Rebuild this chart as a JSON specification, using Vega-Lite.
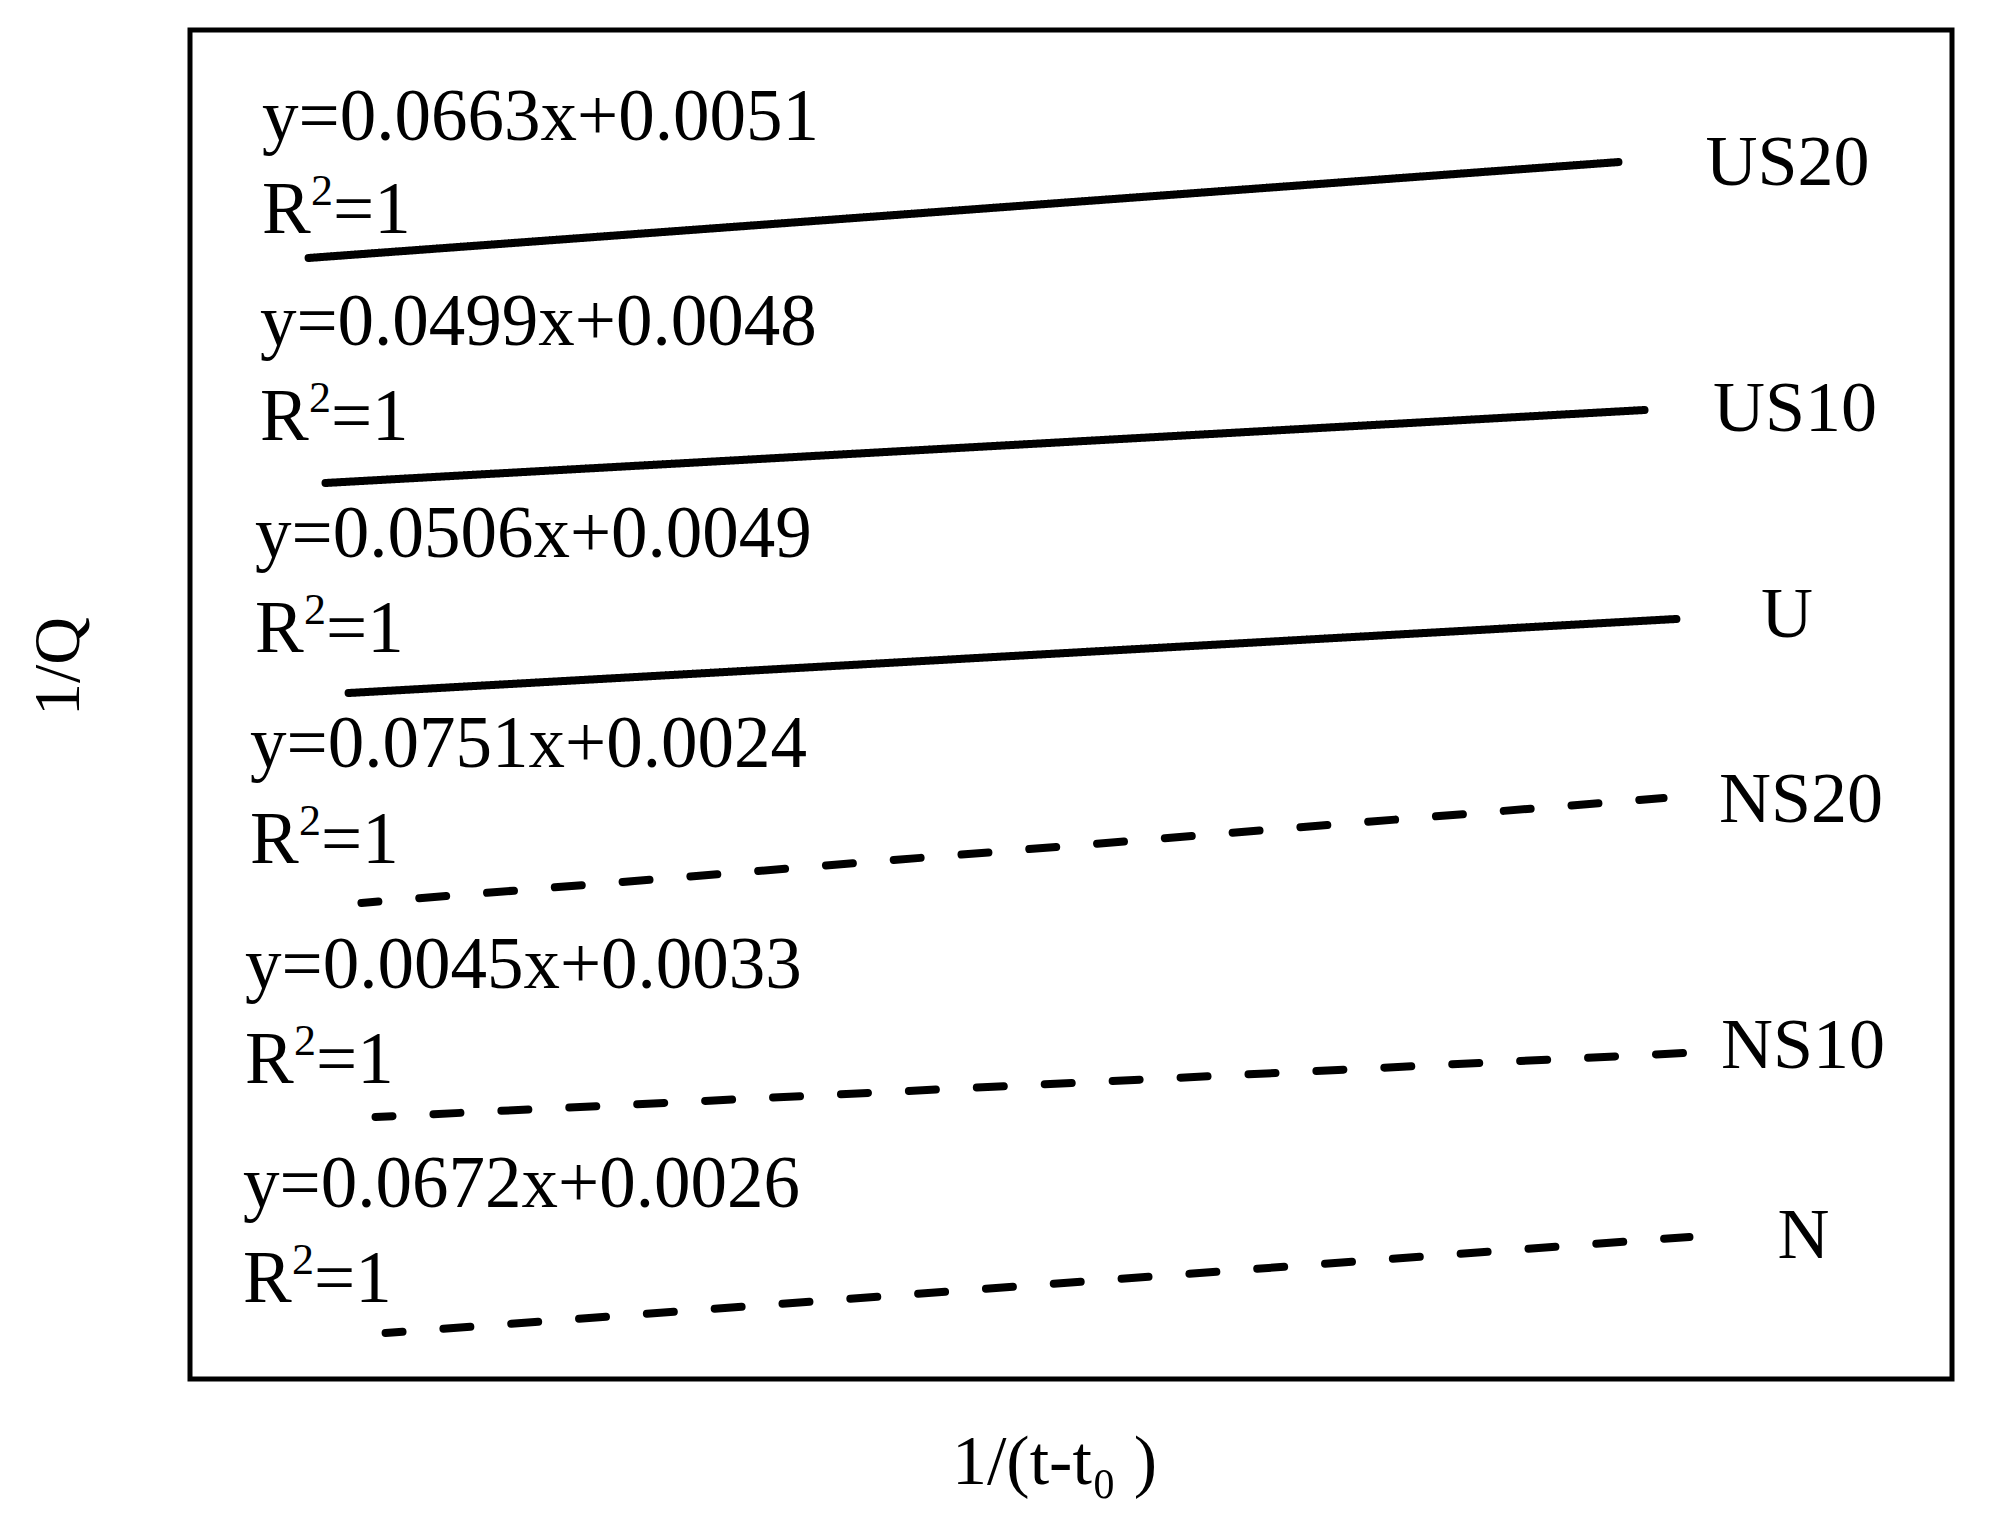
{
  "$schema": "https://vega.github.io/schema/vega-lite/v6.json",
  "width": 1762,
  "height": 1349,
  "autosize": "none",
  "padding": {"left": 190, "top": 30, "right": 39, "bottom": 147},
  "background": "white",
  "config": {
    "view": {"stroke": "black", "strokeWidth": 5},
    "font": "Liberation Serif"
  },
  "datasets": {
    "lines": [
      {"series": "US20", "style": "solid", "x": 6.73, "y": 83.10},
      {"series": "US20", "style": "solid", "x": 81.07, "y": 90.21},
      {"series": "US10", "style": "solid", "x": 7.69, "y": 66.42},
      {"series": "US10", "style": "solid", "x": 82.55, "y": 71.83},
      {"series": "U", "style": "solid", "x": 9.00, "y": 50.85},
      {"series": "U", "style": "solid", "x": 84.36, "y": 56.34},
      {"series": "NS20", "style": "dashed", "x": 9.73, "y": 35.29},
      {"series": "NS20", "style": "dashed", "x": 83.63, "y": 43.07},
      {"series": "NS10", "style": "dashed", "x": 10.53, "y": 19.42},
      {"series": "NS10", "style": "dashed", "x": 84.87, "y": 24.17},
      {"series": "N", "style": "dashed", "x": 11.10, "y": 3.41},
      {"series": "N", "style": "dashed", "x": 85.10, "y": 10.53}
    ],
    "equations": [
      {"text": "y=0.0663x+0.0051", "x": 4.09, "y": 91.85},
      {"text": "y=0.0499x+0.0048", "x": 3.97, "y": 76.65},
      {"text": "y=0.0506x+0.0049", "x": 3.69, "y": 60.93},
      {"text": "y=0.0751x+0.0024", "x": 3.41, "y": 45.37},
      {"text": "y=0.0045x+0.0033", "x": 3.12, "y": 28.98},
      {"text": "y=0.0672x+0.0026", "x": 3.01, "y": 12.75}
    ],
    "r2": [
      {"series": "US20", "x": 4.09, "y": 84.95},
      {"series": "US10", "x": 3.97, "y": 69.61},
      {"series": "U", "x": 3.69, "y": 53.89},
      {"series": "NS20", "x": 3.41, "y": 38.25},
      {"series": "NS10", "x": 3.12, "y": 21.94},
      {"series": "N", "x": 3.01, "y": 5.71}
    ],
    "labels": [
      {"text": "US20", "x": 90.66, "y": 88.51},
      {"text": "US10", "x": 91.09, "y": 70.27},
      {"text": "U", "x": 90.64, "y": 55.00},
      {"text": "NS20", "x": 91.43, "y": 41.29},
      {"text": "NS10", "x": 91.54, "y": 23.05},
      {"text": "N", "x": 91.57, "y": 8.97}
    ]
  },
  "encoding": {
    "x": {
      "field": "x",
      "type": "quantitative",
      "scale": {"domain": [0, 100], "nice": false, "zero": false},
      "axis": {
        "title": "1/(t-t₀ )",
        "labels": false,
        "ticks": false,
        "domain": false,
        "grid": false,
        "titleFont": "Liberation Serif",
        "titleFontSize": 70,
        "titleFontWeight": "normal",
        "titleColor": "black",
        "titleX": 864,
        "titleY": 104,
        "titleAlign": "center",
        "titleBaseline": "alphabetic"
      }
    },
    "y": {
      "field": "y",
      "type": "quantitative",
      "scale": {"domain": [0, 100], "nice": false, "zero": false},
      "axis": {
        "title": "1/Q",
        "labels": false,
        "ticks": false,
        "domain": false,
        "grid": false,
        "titleFont": "Liberation Serif",
        "titleFontSize": 66,
        "titleFontWeight": "normal",
        "titleColor": "black",
        "titleAngle": 270,
        "titleX": -112,
        "titleY": 636,
        "titleAlign": "center",
        "titleBaseline": "alphabetic"
      }
    }
  },
  "layer": [
    {
      "data": {"name": "lines"},
      "mark": {"type": "line", "color": "black", "strokeWidth": 8, "strokeCap": "round", "strokeDashOffset": 10},
      "encoding": {
        "detail": {"field": "series", "type": "nominal"},
        "strokeDash": {
          "field": "style",
          "type": "nominal",
          "scale": {"domain": ["solid", "dashed"], "range": [[1, 0], [27, 41]]},
          "legend": null
        }
      }
    },
    {
      "data": {"name": "equations"},
      "mark": {"type": "text", "align": "left", "baseline": "alphabetic", "font": "Liberation Serif", "fontSize": 73, "color": "black"},
      "encoding": {"text": {"field": "text", "type": "nominal"}}
    },
    {
      "data": {"name": "r2"},
      "mark": {"type": "text", "text": "R", "align": "left", "baseline": "alphabetic", "font": "Liberation Serif", "fontSize": 73, "color": "black"}
    },
    {
      "data": {"name": "r2"},
      "mark": {"type": "text", "text": "2", "align": "left", "baseline": "alphabetic", "dx": 49, "dy": -28, "font": "Liberation Serif", "fontSize": 44, "color": "black"}
    },
    {
      "data": {"name": "r2"},
      "mark": {"type": "text", "text": "=1", "align": "left", "baseline": "alphabetic", "dx": 71, "font": "Liberation Serif", "fontSize": 73, "color": "black"}
    },
    {
      "data": {"name": "labels"},
      "mark": {"type": "text", "align": "center", "baseline": "alphabetic", "font": "Liberation Serif", "fontSize": 72, "color": "black"},
      "encoding": {"text": {"field": "text", "type": "nominal"}}
    }
  ]
}
